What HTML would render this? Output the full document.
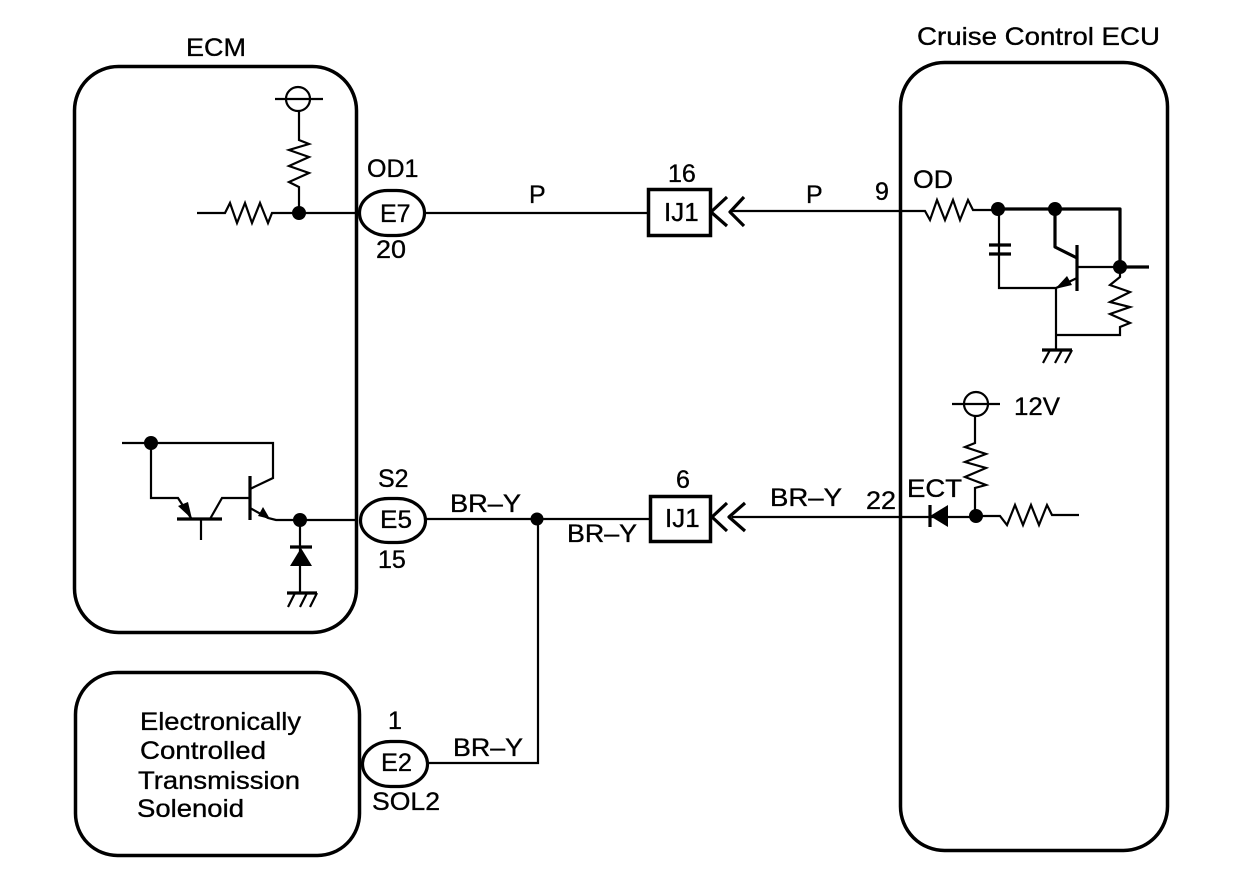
<!DOCTYPE html>
<html>
<head>
<meta charset="utf-8">
<style>
html,body{margin:0;padding:0;background:#fff;}
svg{display:block;}
text{font-family:"Liberation Sans",sans-serif;font-size:25px;fill:#000;stroke:#000;stroke-width:.35;}
.w{fill:none;stroke:#000;stroke-width:2.2;stroke-linejoin:miter;}
.t{fill:none;stroke:#000;stroke-width:3.2;stroke-linejoin:round;}
.b{fill:none;stroke:#000;stroke-width:3.5;}
.k{fill:#000;stroke:none;}
</style>
</head>
<body>
<svg width="1248" height="878" viewBox="0 0 1248 878" xmlns="http://www.w3.org/2000/svg">
<!-- Boxes -->
<rect class="b" x="74.5" y="66.5" width="282" height="566" rx="44" ry="44"/>
<rect class="b" x="75.5" y="672.5" width="284" height="183" rx="42" ry="42"/>
<rect class="b" x="900.5" y="62.5" width="267" height="788" rx="44" ry="44"/>

<!-- Top-left ECM circuit -->
<circle class="w" cx="298" cy="99" r="12"/>
<path class="w" d="M275 99H323"/>
<path class="w" d="M299 111V140L309 144L289 150L309 157L289 166L309 173L289 182L299 187V213"/>
<path class="w" d="M197 213H225L230 203L237 223L245 203L252 223L260 203L268 223L272 213H357"/>
<circle class="k" cx="299" cy="213" r="7"/>

<!-- Connector E7 -->
<rect class="t" x="359.5" y="190.5" width="65" height="45" rx="28" ry="22.5"/>
<path class="w" d="M424 213H650"/>
<rect class="b" x="648.5" y="189.5" width="62" height="46"/>
<path class="t" d="M727 197L711 212L727 226M744 197L730 212L744 226"/>
<path class="w" d="M731 211H900"/>

<!-- Cruise control upper circuit -->
<path class="w" d="M900 211H925L930 220L937 200L945 220L953 200L960 220L968 200L973 210H998"/>
<path class="t" d="M998 209H1120V267"/>
<circle class="k" cx="998" cy="209" r="7"/>
<circle class="k" cx="1055" cy="209" r="7"/>
<circle class="k" cx="1120" cy="267" r="7"/>
<path class="t" d="M1055 209V247L1077 258"/>
<path class="t" d="M1077 245V291"/>
<path class="w" d="M1077 267H1120"/>
<path class="t" d="M1120 267H1149"/>
<path class="w" d="M1077 278L1056 288H999V209"/>
<path class="k" d="M1055 289L1067 276L1072 285Z"/>
<path class="t" d="M989 245H1011M989 254H1011"/>
<path class="w" d="M1120 270V277L1110 285L1130 292L1110 302L1130 307L1110 314L1130 323L1120 327V335H1057"/>
<path class="w" d="M1056 288V350"/>
<path class="t" d="M1042 350H1072"/>
<path class="w" d="M1050 350L1043 363M1062 350L1055 363M1072 350L1065 363"/>

<!-- Lower ECM circuit -->
<path class="w" d="M122 443H273V478L250 489"/>
<circle class="k" cx="151" cy="443" r="7"/>
<path class="w" d="M151 443V498H178L191 518"/>
<path class="k" d="M192 519L178 506L188 502Z"/>
<path class="t" d="M177 519H222"/>
<path class="w" d="M201 519V540M210 519L222 498H250"/>
<path class="t" d="M250 476V520"/>
<path class="w" d="M250 508L268 518L276 520H357"/>
<path class="k" d="M270 519L258 516L263 507Z"/>
<circle class="k" cx="300" cy="520" r="7"/>
<path class="w" d="M300 520V593"/>
<path class="t" d="M290 547H312"/>
<path class="k" d="M301 548L290 566H312Z"/>
<path class="t" d="M287 593H317"/>
<path class="w" d="M295 593L288 607M307 593L300 607M317 593L310 607"/>

<!-- Connector E5 -->
<rect class="t" x="360.5" y="498.5" width="65" height="44" rx="28" ry="22"/>
<path class="w" d="M425 519H650"/>
<circle class="k" cx="537" cy="519" r="6.5"/>
<path class="w" d="M538 519V763H427"/>
<rect class="b" x="650.5" y="496.5" width="60" height="45"/>
<path class="t" d="M727 503L712 517L727 531M745 503L729 517L745 531"/>
<path class="w" d="M732 517H976"/>

<!-- Connector E2 -->
<rect class="t" x="362.5" y="741.5" width="65" height="45" rx="28" ry="22.5"/>

<!-- Cruise control lower circuit -->
<circle class="w" cx="976" cy="404" r="12"/>
<path class="w" d="M952 404H1000"/>
<path class="w" d="M975 416V443L965 447L986 454L965 462L986 468L965 477L986 485L975 488V516"/>
<circle class="k" cx="976" cy="516" r="7"/>
<path class="w" d="M976 516H1000L1007 525L1015 505L1023 525L1031 505L1039 525L1047 505L1052 515H1079"/>
<path class="t" d="M930 505V527"/>
<path class="k" d="M930 516L948 505V527Z"/>

<!-- Labels -->
<text x="186" y="56" textLength="60" lengthAdjust="spacingAndGlyphs">ECM</text>
<text x="917" y="45" textLength="243" lengthAdjust="spacingAndGlyphs">Cruise Control ECU</text>
<text x="367" y="177">OD1</text>
<text x="380" y="222">E7</text>
<text x="376" y="258" textLength="30" lengthAdjust="spacingAndGlyphs">20</text>
<text x="529" y="203">P</text>
<text x="668" y="182">16</text>
<text x="664" y="221" style="font-size:26px">IJ1</text>
<text x="806" y="203">P</text>
<text x="875" y="200">9</text>
<text x="913" y="188" textLength="40" lengthAdjust="spacingAndGlyphs">OD</text>
<text x="1014" y="415" textLength="46" lengthAdjust="spacingAndGlyphs">12V</text>
<text x="378" y="487">S2</text>
<text x="380" y="528" textLength="32" lengthAdjust="spacingAndGlyphs">E5</text>
<text x="378" y="568">15</text>
<text x="450" y="512" textLength="71" lengthAdjust="spacingAndGlyphs">BR–Y</text>
<text x="567" y="542" textLength="70" lengthAdjust="spacingAndGlyphs">BR–Y</text>
<text x="676" y="488">6</text>
<text x="665" y="527" style="font-size:26px">IJ1</text>
<text x="770" y="506" textLength="72" lengthAdjust="spacingAndGlyphs">BR–Y</text>
<text x="866" y="509" textLength="30" lengthAdjust="spacingAndGlyphs">22</text>
<text x="907" y="497" textLength="55" lengthAdjust="spacingAndGlyphs">ECT</text>
<text x="388" y="729">1</text>
<text x="381" y="771" textLength="31" lengthAdjust="spacingAndGlyphs">E2</text>
<text x="372" y="810" textLength="68" lengthAdjust="spacingAndGlyphs">SOL2</text>
<text x="453" y="756" textLength="70" lengthAdjust="spacingAndGlyphs">BR–Y</text>
<text x="140" y="730" textLength="161" lengthAdjust="spacingAndGlyphs">Electronically</text>
<text x="140" y="759" textLength="126" lengthAdjust="spacingAndGlyphs">Controlled</text>
<text x="138" y="789" textLength="162" lengthAdjust="spacingAndGlyphs">Transmission</text>
<text x="137" y="817" textLength="107" lengthAdjust="spacingAndGlyphs">Solenoid</text>
</svg>
</body>
</html>
